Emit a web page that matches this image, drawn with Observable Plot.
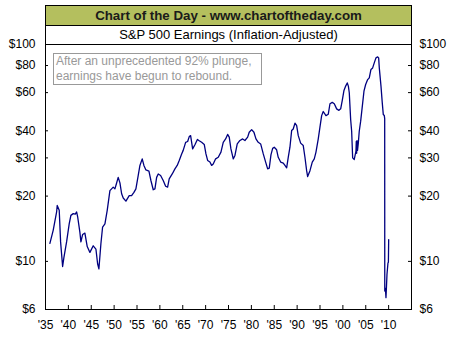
<!DOCTYPE html>
<html>
<head>
<meta charset="utf-8">
<script src="https://cdn.jsdelivr.net/npm/d3@7"></script>
<script src="https://cdn.jsdelivr.net/npm/@observablehq/plot@0.6"></script>
<style>
  html, body { margin: 0; padding: 0; background: #ffffff; }
  #wrap { position: relative; width: 454px; height: 340px; font-family: Arial, "Liberation Sans", sans-serif; }
  #title { position: absolute; left: 45px; top: 5px; width: 367px; height: 21px; box-sizing: border-box;
           background: #b4bf5e; border: 1px solid #000; text-align: center; font-weight: bold;
           font-size: 13.3px; line-height: 19px; color: #1a1a1a; }
  #subtitle { position: absolute; left: 45px; top: 26px; width: 367px; height: 18px; box-sizing: border-box;
              border-left: 1px solid #000; border-right: 1px solid #000; text-align: center;
              font-size: 13px; line-height: 17px; color: #000; background: #fff; }
  #note { position: absolute; left: 53px; top: 53px; width: 209px; height: 32px; box-sizing: border-box;
          border: 1px solid #999; padding: 0 0 0 2px; font-size: 12px; line-height: 15px; color: #999;
          white-space: nowrap; background: #fff; }
  #chart { position: absolute; left: 0; top: 0; }
</style>
</head>
<body>
<div id="wrap">
  <div id="chart"></div>
  <div id="title">Chart of the Day - www.chartoftheday.com</div>
  <div id="subtitle">S&amp;P 500 Earnings (Inflation-Adjusted)</div>
  <div id="note">After an unprecedented 92% plunge,<br>earnings have begun to rebound.</div>
</div>
<script>
const years = [
  1935.96, 1936.68, 1937.43, 1937.56, 1938.0, 1938.3, 1938.74, 1939.02, 1939.61, 1940.18,
  1940.55, 1941.06, 1941.5, 1941.8, 1942.02, 1942.52, 1942.74, 1943.11, 1943.61, 1944.12,
  1944.71, 1945.43, 1946.02, 1946.39, 1946.67, 1947.11, 1947.48, 1947.99, 1948.49, 1949.08,
  1949.8, 1950.17, 1950.5, 1950.89, 1951.27, 1951.64, 1951.99, 1952.58, 1953.3, 1953.82,
  1954.33, 1954.76, 1955.27, 1955.64, 1956.14, 1956.51, 1956.95, 1957.61, 1958.04, 1958.55,
  1958.92, 1959.29, 1959.64, 1960.16, 1960.73, 1961.26, 1961.69, 1962.04, 1962.7, 1963.29,
  1963.79, 1964.23, 1964.76, 1965.1, 1965.63, 1966.07, 1966.42, 1966.72, 1967.16, 1967.66,
  1968.2, 1968.6, 1969.13, 1969.7, 1970.07, 1970.44, 1970.94, 1971.31, 1971.66, 1972.19,
  1972.76, 1973.35, 1973.85, 1974.37, 1974.81, 1975.16, 1975.53, 1976.04, 1976.41, 1976.91,
  1977.5, 1978.09, 1978.59, 1979.19, 1979.53, 1980.06, 1980.56, 1981.0, 1981.5, 1982.03,
  1982.6, 1983.12, 1983.56, 1983.91, 1984.28, 1984.65, 1985.0, 1985.52, 1985.87, 1986.4,
  1986.97, 1987.34, 1987.71, 1988.06, 1988.43, 1988.8, 1989.15, 1989.53, 1989.9, 1990.25,
  1990.77, 1991.34, 1991.71, 1992.08, 1992.3, 1992.81, 1993.31, 1993.75, 1994.12, 1994.62,
  1994.99, 1995.36, 1995.71, 1996.3, 1996.81, 1997.18, 1997.68, 1998.12, 1998.64, 1999.14,
  1999.52, 1999.87, 2000.24, 2000.61, 2000.96, 2001.2, 2001.4, 2001.7, 2001.92, 2002.14,
  2002.49, 2002.86, 2002.93, 2003.01, 2003.1, 2003.2, 2003.37, 2003.58, 2003.89, 2004.33,
  2004.61, 2004.98, 2005.42, 2005.77, 2006.14, 2006.51, 2006.86, 2007.23, 2007.61, 2007.82,
  2007.96, 2008.33, 2008.61, 2008.83, 2009.05, 2009.14, 2009.16, 2009.3, 2009.42, 2009.5,
  2009.64, 2009.86, 2009.95, 2010.01
];
const earnings = [
  12.1, 13.9, 16.9, 18.1, 17.2, 12.3, 9.47, 10.4, 12.3, 14.9,
  16.3, 16.6, 16.5, 16.9, 16.1, 13.6, 12.3, 13.3, 13.5, 11.7,
  11.0, 11.8, 11.4, 9.75, 9.24, 12.05, 14.4, 14.9, 17.2, 21.2,
  22.0, 21.6, 22.8, 24.4, 23.0, 20.5, 19.6, 18.95, 20.1, 20.1,
  20.8, 21.6, 24.9, 27.7, 29.7, 27.7, 26.4, 26.1, 23.6, 21.4,
  21.6, 24.4, 25.3, 24.9, 23.6, 22.2, 22.0, 24.0, 25.3, 26.7,
  27.7, 29.2, 31.3, 32.5, 35.4, 35.7, 37.6, 38.0, 33.0, 34.5,
  36.5, 36.0, 35.4, 34.6, 31.3, 29.2, 28.7, 27.7, 28.1, 29.7,
  30.2, 31.9, 35.4, 36.7, 38.5, 37.4, 33.0, 29.7, 30.8, 34.8,
  36.1, 36.7, 36.1, 37.4, 39.4, 40.5, 39.4, 36.7, 35.4, 34.8,
  31.3, 28.7, 26.7, 26.9, 31.0, 33.2, 33.6, 32.7, 30.2, 28.7,
  28.4, 27.7, 27.0, 30.2, 33.6, 40.1, 40.8, 43.4, 42.3, 38.0,
  35.1, 34.2, 30.2, 26.2, 24.6, 26.2, 28.7, 29.7, 31.9, 36.7,
  41.6, 47.0, 49.1, 47.0, 47.7, 53.3, 54.1, 53.3, 50.5, 49.7,
  50.5, 55.2, 61.4, 64.3, 66.5, 64.3, 59.9, 45.1, 39.8, 30.0,
  29.5, 32.2, 35.7, 31.5, 36.0, 32.5, 35.0, 39.8, 44.3, 53.8,
  60.9, 65.4, 68.9, 70.2, 76.7, 78.0, 82.3, 86.8, 87.7, 86.8,
  78.0, 64.3, 53.8, 47.6, 47.1, 45.5, 7.3, 7.5, 6.8, 7.4,
  8.7, 9.85, 9.9, 12.6
];
const xTicks = [1935, 1940, 1945, 1950, 1955, 1960, 1965, 1970, 1975, 1980, 1985, 1990, 1995, 2000, 2005, 2010];
const yTicks = [6, 10, 20, 30, 40, 60, 80, 100];

const data = years.map((y, i) => ({year: y, value: earnings[i]}));
const fmtX = d => "'" + String(d % 100).padStart(2, "0");
const fmtY = d => "$" + d;

const W = 454, H = 340, mL = 45, mR = 43, mT = 44, mB = 31;
const innerW = W - mL - mR, innerH = H - mT - mB;

const chart = Plot.plot({
  width: W, height: H,
  marginTop: mT, marginBottom: mB, marginLeft: mL, marginRight: mR,
  style: {fontFamily: "Arial, 'Liberation Sans', sans-serif", fontSize: "12px", background: "transparent", color: "#000"},
  x: {domain: [1935, 2015], axis: null},
  y: {type: "log", domain: [6, 100], axis: null},
  marks: [
    Plot.line(data, {x: "year", y: "value", stroke: "#000080", strokeWidth: 1.3}),
    Plot.frame({stroke: "#000"}),
    Plot.tickX(xTicks, {x: d => d, insetTop: innerH - 4, stroke: "#000"}),
    Plot.tickY(yTicks, {y: d => d, insetRight: innerW - 3, stroke: "#000"}),
    Plot.tickY(yTicks, {y: d => d, insetLeft: innerW - 3, stroke: "#000"}),
    Plot.text(xTicks, {x: d => d, text: fmtX, frameAnchor: "bottom", lineAnchor: "top", dy: 11, fill: "#000", fontSize: 12}),
    Plot.text(yTicks, {y: d => d, text: fmtY, frameAnchor: "left", textAnchor: "end", dx: -10, fill: "#000", fontSize: 12}),
    Plot.text(yTicks, {y: d => d, text: fmtY, frameAnchor: "right", textAnchor: "start", dx: 8, fill: "#000", fontSize: 12})
  ]
});
document.getElementById("chart").appendChild(chart);
</script>
</body>
</html>
